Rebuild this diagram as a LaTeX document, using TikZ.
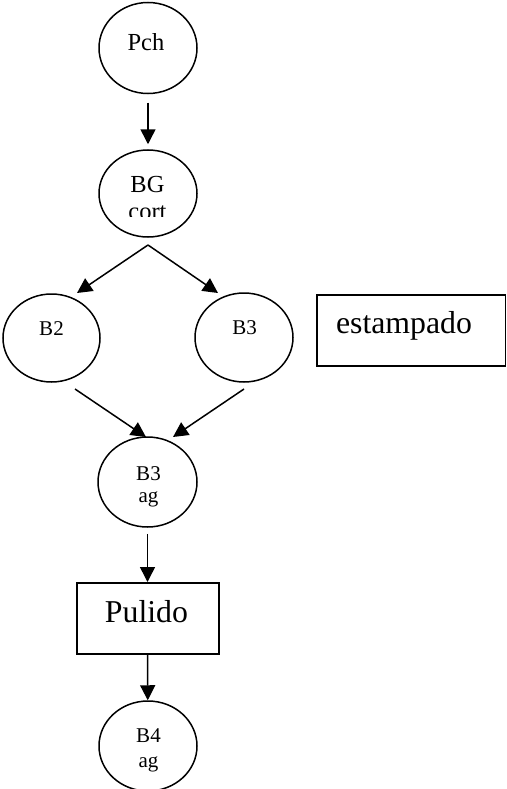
\documentclass[tikz,border=0pt]{standalone}
\usepackage{fontspec}
\setmainfont{Liberation Serif}
\usetikzlibrary{shapes.geometric,arrows.meta}
\begin{document}
\begin{tikzpicture}[x=1pt,y=-1pt,
  lw/.style={line width=1.5pt},
  circ/.style={ellipse,draw,lw,inner sep=0pt},
  boxnode/.style={draw,lw,inner sep=0pt,anchor=north west},
  arr/.style={lw,-{Triangle[length=15pt,width=15pt]}},
  big/.style={font=\fontsize{31.8}{38}\selectfont,anchor=base,inner sep=0pt},
  mid/.style={font=\fontsize{24.5}{29}\selectfont,anchor=base,inner sep=0pt},
  sml/.style={font=\fontsize{21}{25}\selectfont,anchor=base,inner sep=0pt}]
\useasboundingbox (0,0) rectangle (506,789);
% ellipses
\node[circ,minimum width=98pt,minimum height=91pt] (pch) at (148,48) {};
\node[circ,minimum width=98pt,minimum height=87pt] (bg) at (148,193.5) {};
\node[circ,minimum width=97pt,minimum height=88pt] (b2) at (51.5,338) {};
\node[circ,minimum width=98pt,minimum height=89pt] (b3) at (244,337.5) {};
\node[circ,minimum width=99pt,minimum height=90pt] (b3ag) at (147.5,482) {};
\node[circ,minimum width=98pt,minimum height=90pt] (b4) at (148,746) {};
% boxes
\node[boxnode,minimum width=188.5pt,minimum height=71pt] (est) at (316,294) {};
\node[boxnode,minimum width=142pt,minimum height=71pt] (pul) at (76,582) {};
% texts
\node[mid] (tpch) at (146,50.5) {Pch};
\node[mid] (tbg) at (147.5,192) {BG};
\begin{scope}
  \clip (100,200) rectangle (200,216);
  \node[mid] (tcort) at (147.5,219.5) {cort};
\end{scope}
\node[sml] (tb2) at (51.5,335) {B2};
\node[sml] (tb3) at (244.5,334) {B3};
\node[big] (test) at (404,333) {estampado};
\node[sml] (tb3a) at (148.5,480) {B3};
\node[sml] (tb3b) at (148.5,502) {ag};
\node[big] (tpul) at (146.5,622.5) {Pulido};
\node[sml] (tb4a) at (148.5,742) {B4};
\node[sml] (tb4b) at (148.5,767) {ag};
% connector points
\coordinate (split) at (148,245);
\coordinate (tipb2) at (77,293);
\coordinate (tipb3) at (218,293);
\coordinate (fromb2) at (75,389);
\coordinate (fromb3) at (244,389);
\coordinate (tipl) at (146,437);
\coordinate (tipr) at (173,437);
% connectors
\draw[arr,shorten <=8.5pt,shorten >=5pt] (pch) -- (bg);
\draw[arr] (split) -- (tipb2);
\draw[arr] (split) -- (tipb3);
\draw[arr] (fromb2) -- (tipl);
\draw[arr] (fromb3) -- (tipr);
\draw[arr,shorten <=6pt] (b3ag) -- (b3ag |- pul.north);
\draw[arr] (pul.south -| b3ag) -- (b4);
\end{tikzpicture}
\end{document}
